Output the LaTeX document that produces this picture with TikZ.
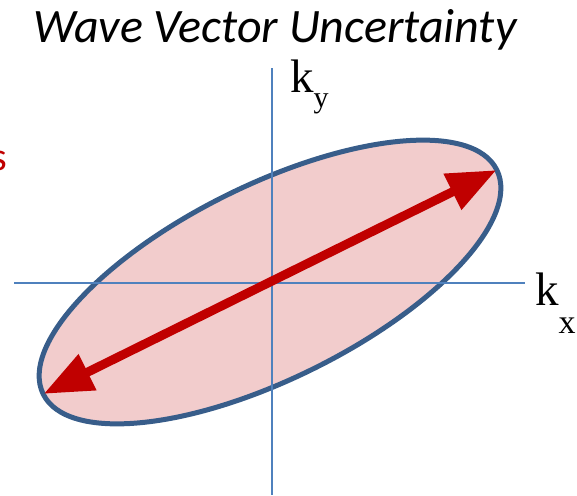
\documentclass[tikz,border=0pt]{standalone}
\usepackage{fontspec}
\setmainfont{Liberation Serif}
\newfontfamily\calibri{Carlito}
\usetikzlibrary{shapes.geometric,arrows.meta}
\definecolor{axisblue}{RGB}{79,129,189}
\definecolor{edgeblue}{RGB}{56,93,138}
\definecolor{pinkfill}{RGB}{242,204,204}
\definecolor{darkred}{RGB}{192,0,0}
\begin{document}
\begin{tikzpicture}[x=1pt,y=-1pt,
  axisline/.style={draw=axisblue,line width=1.8pt},
  spread/.style={ellipse,draw=edgeblue,fill=pinkfill,line width=5pt,inner sep=0pt},
  redarrow/.style={draw=darkred,line width=9pt,
    arrows={Triangle[length=49pt,width=38pt]-Triangle[length=49pt,width=38pt]},
    shorten <=3pt, shorten >=3pt},
  axislabel/.style={inner sep=0pt,anchor=base west,font=\fontsize{47}{47}\selectfont}
]
\useasboundingbox (0,0) rectangle (577,495);
\node[anchor=base west,inner sep=0pt,font=\calibri\itshape\fontsize{48}{48}\selectfont] (title) at (33,42) {Wave Vector Uncertainty};
\node[anchor=base east,inner sep=0pt,text=darkred,font=\calibri\fontsize{40}{40}\selectfont] (cut) at (7,170) {s};
\node[spread,minimum width=506pt,minimum height=194pt,rotate=26.3] (el) at (270,282) {};
\coordinate (xl) at (14,283);
\coordinate (xr) at (525,283);
\coordinate (yt) at (272,68);
\coordinate (yb) at (272,495);
\draw[axisline] (xl) -- (xr);
\draw[axisline] (yt) -- (yb);
\draw[redarrow] (el.west) -- (el.east);
\node[axislabel] (ky) at (290,92) {k\raisebox{-15pt}{\fontsize{30}{30}\selectfont y}};
\node[axislabel] (kx) at (535,305) {k\raisebox{-28pt}{\fontsize{34}{34}\selectfont x}};
\end{tikzpicture}
\end{document}
